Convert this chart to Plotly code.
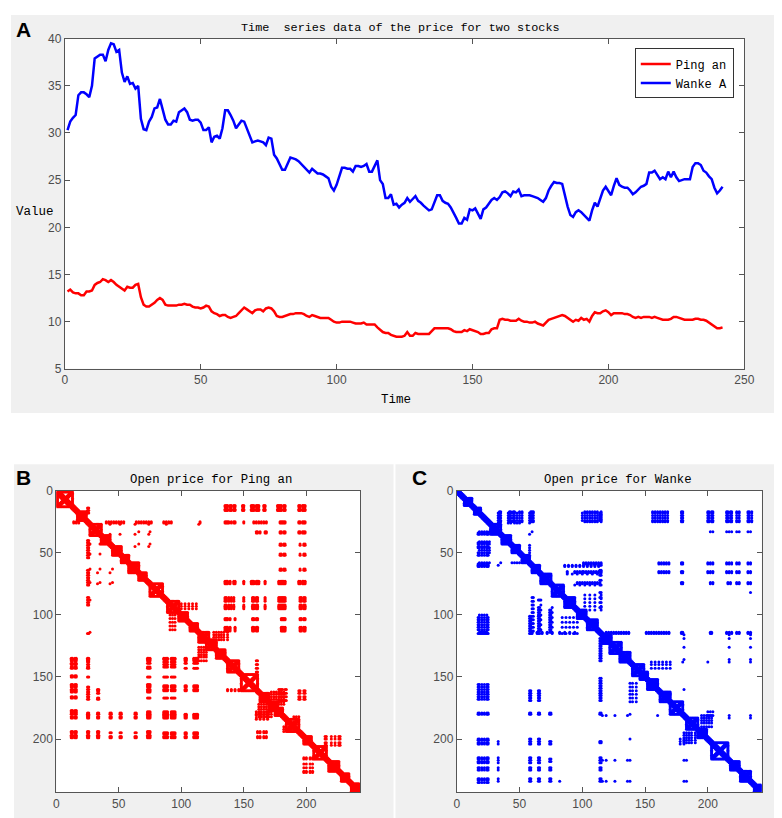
import plotly.graph_objects as go

# closing prices, t = 1..242
ping_an = [
    13.2, 13.4, 13.1, 13.0, 13.0, 12.8, 12.8, 13.2, 13.2, 13.3,
    13.9, 14.1, 14.2, 14.5, 14.4, 14.2, 14.4, 14.2, 13.9, 13.7,
    13.5, 13.3, 13.7, 13.6, 13.6, 13.9, 14.0, 12.6, 11.8, 11.6,
    11.6, 11.8, 12.0, 12.3, 12.5, 12.3, 11.8, 11.7, 11.7, 11.7,
    11.7, 11.8, 11.8, 11.9, 11.8, 11.8, 11.6, 11.5, 11.5, 11.4,
    11.5, 11.7, 11.6, 11.1, 10.9, 10.8, 10.6, 10.7, 10.7, 10.5,
    10.4, 10.5, 10.6, 10.9, 11.2, 11.5, 11.3, 11.1, 10.9, 11.2,
    11.3, 11.3, 11.1, 11.4, 11.5, 11.4, 11.1, 10.6, 10.5, 10.5,
    10.6, 10.7, 10.8, 10.8, 10.9, 10.9, 10.9, 10.8, 10.6, 10.5,
    10.7, 10.6, 10.5, 10.4, 10.4, 10.4, 10.4, 10.2, 10.0, 9.9,
    9.9, 10.0, 10.0, 10.0, 10.0, 9.9, 9.8, 9.8, 9.8, 9.9,
    9.7, 9.7, 9.7, 9.7, 9.4, 9.1, 8.9, 8.8, 8.8, 8.6,
    8.5, 8.4, 8.4, 8.4, 8.5, 8.9, 8.5, 8.5, 8.8, 8.7,
    8.7, 8.7, 8.7, 8.7, 9.0, 9.3, 9.3, 9.3, 9.3, 9.3,
    9.3, 9.2, 9.0, 8.9, 8.9, 8.9, 9.1, 9.0, 9.2, 9.1,
    9.0, 8.9, 8.7, 8.7, 8.8, 8.8, 9.2, 9.3, 9.3, 10.2,
    10.3, 10.2, 10.2, 10.1, 10.1, 10.1, 10.3, 10.1, 10.0, 10.0,
    9.9, 9.9, 10.0, 9.8, 9.7, 9.6, 9.9, 10.2, 10.3, 10.4,
    10.5, 10.6, 10.7, 10.6, 10.4, 10.2, 10.0, 10.2, 10.1, 10.4,
    10.2, 10.3, 10.0, 10.6, 11.0, 10.9, 10.9, 11.1, 11.2, 11.0,
    10.7, 10.9, 10.9, 10.9, 10.9, 10.8, 10.8, 10.7, 10.5, 10.4,
    10.5, 10.4, 10.5, 10.5, 10.5, 10.4, 10.5, 10.4, 10.3, 10.2,
    10.2, 10.2, 10.3, 10.5, 10.5, 10.4, 10.3, 10.2, 10.2, 10.2,
    10.2, 10.3, 10.3, 10.2, 10.2, 10.1, 9.9, 9.7, 9.5, 9.3,
    9.3, 9.4,
]
wanke_a = [
    30.3, 31.2, 31.6, 31.9, 34.0, 34.3, 34.3, 34.1, 33.8, 35.0,
    37.9, 38.1, 38.3, 38.3, 37.6, 38.8, 39.5, 39.4, 38.6, 38.8,
    36.4, 35.4, 36.0, 35.2, 35.3, 34.7, 35.0, 31.5, 30.4, 30.3,
    31.2, 31.7, 32.6, 32.7, 33.6, 32.5, 31.4, 30.9, 30.9, 31.3,
    31.2, 32.2, 32.4, 32.6, 32.2, 31.4, 31.3, 31.4, 31.4, 31.1,
    30.3, 30.3, 30.6, 29.0, 29.6, 29.7, 29.4, 30.5, 32.4, 32.4,
    31.9, 31.3, 30.5, 30.9, 31.3, 31.2, 30.4, 29.6, 29.0, 29.1,
    29.2, 29.1, 29.0, 28.7, 29.5, 29.4, 27.7, 27.3, 26.6, 26.1,
    26.1, 26.7, 27.4, 27.3, 27.2, 27.0, 26.7, 26.4, 26.0, 25.8,
    26.2, 25.9, 25.7, 25.7, 25.6, 25.4, 25.2, 24.3, 23.9, 24.5,
    25.4, 26.3, 26.3, 26.2, 26.2, 25.9, 26.5, 26.5, 26.4, 26.5,
    26.7, 25.9, 25.9, 26.6, 27.1, 25.0, 24.6, 23.1, 23.1, 23.5,
    22.4, 22.5, 22.1, 22.4, 22.6, 23.1, 22.7, 23.0, 23.3, 22.8,
    22.6, 22.3, 22.0, 21.8, 21.9, 22.6, 23.4, 23.4, 22.8, 22.6,
    22.5, 22.1, 21.6, 21.0, 20.4, 20.4, 21.0, 20.8, 21.9, 21.8,
    22.0, 21.5, 20.9, 21.9, 22.1, 22.5, 22.9, 23.1, 22.9, 23.2,
    23.7, 23.8, 23.6, 23.3, 23.8, 23.7, 24.0, 23.3, 23.4, 23.4,
    23.4, 23.3, 23.2, 23.1, 22.9, 22.7, 23.1, 23.9, 24.4, 24.8,
    24.7, 24.7, 24.6, 23.3, 22.2, 21.3, 21.1, 21.6, 21.8, 21.6,
    21.3, 21.0, 20.7, 21.8, 22.6, 22.2, 23.0, 23.9, 24.3, 23.9,
    23.4, 24.4, 25.2, 24.5, 24.3, 24.2, 24.2, 23.9, 23.5, 23.7,
    24.0, 24.3, 24.4, 24.6, 25.8, 25.8, 26.0, 25.5, 25.1, 25.3,
    25.1, 25.9, 25.3, 25.9, 25.3, 24.9, 25.0, 25.1, 25.1, 25.1,
    26.4, 26.8, 26.8, 26.6, 26.0, 25.8, 25.4, 25.1, 24.2, 23.6,
    23.9, 24.3,
]
days = list(range(1, len(wanke_a) + 1))

# recurrence plots: square blocks on the diagonal (first, last index)
pa_blocks = [(1, 13), (17, 24), (27, 36), (36, 43), (45, 52), (52, 58), (58, 66),
             (66, 72), (75, 85), (89, 98), (98, 105), (107, 113), (114, 122),
             (120, 128), (128, 135), (137, 146), (148, 161), (163, 170),
             (170, 177), (175, 181), (184, 194), (198, 204), (206, 216),
             (218, 226), (228, 234), (236, 242)]
wk_blocks = [(6, 12), (14, 19), (27, 35), (36, 43), (44, 50), (52, 58), (60, 66),
             (67, 75), (76, 85), (86, 94), (96, 103), (104, 112), (116, 123),
             (122, 131), (130, 138), (140, 149), (146, 152), (152, 160),
             (162, 170), (170, 180), (183, 192), (192, 199), (203, 216),
             (218, 225), (226, 234), (237, 242)]

# off-diagonal recurrences: (row indices, column indices), mirrored later
pa_clusters = [
    ([12, 13, 15, 16], [135, 136, 137, 139, 140, 142, 143, 149, 150, 156, 157, 158, 160, 161, 162,
                        166, 167, 177, 178, 179, 180, 182, 183, 194, 195, 197, 198, 199]),
    ([25, 26], [40, 42, 44, 46, 48, 50, 52, 54, 64, 66, 68, 70, 72, 74, 76, 86, 88, 90, 92, 115,
                135, 136, 137, 138, 140, 142, 143, 150, 158, 160, 162, 164, 166, 168,
                179, 180, 181, 182, 183, 194, 195, 197, 198, 199]),
    ([14, 16, 18], [25, 26]),
    ([27], [33, 43, 51, 63, 74, 88, 114]),
    ([35], [43, 51, 63, 74]),
    ([33, 43], [66, 75]),
    ([45], [51, 63, 74]),
    ([33, 34], [160, 161, 163, 167, 168, 179, 180, 182, 183, 194, 195, 197, 198, 199]),
    ([43, 44, 51, 52, 63, 64], [179, 180, 182, 183, 195, 198, 199]),
    ([73, 74, 75], [135, 136, 137, 139, 142, 143, 150, 156, 157, 158, 160, 161, 162, 167,
                    178, 179, 180, 181, 182, 183, 194, 195, 197, 198, 199]),
    ([86, 87, 88, 89, 92, 93, 94, 95], [135, 136, 138, 140, 142, 150, 157, 158, 160, 161, 167,
                                        178, 179, 180, 181, 182, 183, 195, 196, 198, 199]),
    ([103, 104, 110, 111, 112, 113], [135, 136, 137, 139, 143, 157, 158, 160, 161,
                                      180, 181, 182, 183, 195, 196, 198, 199]),
    ([91, 93, 95], [100, 103, 106, 109, 112]),
    ([114, 116, 118, 120], [126, 128, 130, 132, 134, 137]),
    ([137, 140, 143, 146, 148], [160, 161]),
    ([160, 163, 166, 169], [178, 179, 180, 181, 183, 184]),
    ([161, 163, 166, 168], [194, 195, 198, 199]),
    ([162, 164, 166, 168, 170, 172], [172, 174, 176, 178, 180, 182]),
    ([198, 200, 203, 205], [215, 216, 220, 223, 226, 227]),
    ([182, 184, 186, 188], [190, 192, 194]),
]
wk_clusters = [
    ([17, 18, 20, 22, 24, 25], [34, 35, 42, 43, 45, 46, 50, 52, 59, 60, 61,
                                102, 104, 106, 108, 110, 112, 115, 156, 158, 160, 162, 164, 166, 168,
                                179, 180, 200, 201, 203, 204, 215, 216, 218, 219, 223, 225,
                                232, 233, 235]),
    ([33], [60, 202, 204, 215, 217, 219, 223, 225, 232, 234]),
    ([18, 20, 22, 24, 26], [33, 41, 43, 46, 48, 50, 58]),
    ([35, 44, 46, 48, 50, 52, 54, 56], [58]),
    ([58, 59, 65, 66], [101, 103, 105, 107, 109, 111, 113, 115, 161, 163, 165, 167, 169,
                        179, 180, 200, 202, 204, 215, 217, 219, 223, 225, 232, 234]),
    ([65, 66], [88, 94, 96, 98, 100]),
    ([74, 75], [96, 98, 100, 102, 104, 106, 108, 110, 112, 114, 179, 180, 202, 204,
                216, 218, 223, 225, 232, 234]),
    ([82], [234]),
    ([84, 87, 90, 93, 96], [102, 106, 110, 115]),
    ([60, 61], [86, 89, 92, 95, 98, 101, 104, 107, 110, 113]),
    ([67], [88, 92, 96, 100, 104, 108, 112]),
    ([76], [94, 98, 102, 106, 110, 114]),
    ([18, 20, 22, 24], [100, 102, 104, 106, 108, 110, 112, 114]),
    ([114, 115], [19, 21, 23, 60, 64, 68, 72, 76, 82, 86, 90, 94,
                  119, 121, 123, 125, 127, 129, 131, 133, 135, 137,
                  151, 153, 155, 157, 159, 161, 163, 165, 167, 169,
                  179, 180, 202, 203, 215, 217, 219, 223, 225, 232, 234]),
    ([116, 119, 126, 136], [181, 217, 234]),
    ([138, 140, 143], [155, 158, 161, 164, 167, 170]),
    ([138], [180, 200, 217, 234]),
    ([160], [181]),
    ([178, 181], [200, 202, 204]),
    ([181, 183], [217, 234]),
    ([181, 183, 185, 187, 190], [195, 197, 199, 201, 203]),
]


def recurrence(n, blocks, clusters, band=2):
    pts = set()
    for i in range(1, n + 1):
        for d in range(-band, band + 1):
            if 1 <= i + d <= n:
                pts.add((i, i + d))
    for a, b in blocks:
        for i in range(a, b + 1):
            for j in range(a, b + 1):
                if i in (a, b) or j in (a, b) or abs(i - j) <= 1 or abs(i + j - a - b) <= 1:
                    pts.add((i, j))
    for rows, cols in clusters:
        for r in rows:
            for c in cols:
                pts.add((r, c))
                pts.add((c, r))
    pts = sorted(pts)
    return [p[1] for p in pts], [p[0] for p in pts]


pa_x, pa_y = recurrence(len(ping_an), pa_blocks, pa_clusters)
wk_x, wk_y = recurrence(len(wanke_a), wk_blocks, wk_clusters)

W, H = 782, 818
MONO = "Liberation Mono"
SANS = "Liberation Sans"

fig = go.Figure()
fig.add_trace(go.Scatter(x=days, y=ping_an, mode="lines", name="Ping an",
                         line=dict(color="#ff0000", width=2.5)))
fig.add_trace(go.Scatter(x=days, y=wanke_a, mode="lines", name="Wanke A",
                         line=dict(color="#0000ff", width=2.5)))
fig.add_trace(go.Scatter(x=pa_x, y=pa_y, mode="markers", showlegend=False,
                         marker=dict(color="#ff0000", size=3.0), xaxis="x2", yaxis="y2"))
fig.add_trace(go.Scatter(x=wk_x, y=wk_y, mode="markers", showlegend=False,
                         marker=dict(color="#0000ff", size=3.0), xaxis="x3", yaxis="y3"))


def px_x(v):
    return v / W


def px_y(v):
    return 1 - v / H


axis_style = dict(showline=True, linecolor="#555555", linewidth=1, mirror="ticks",
                  ticks="inside", ticklen=5, tickcolor="#555555", showgrid=False,
                  zeroline=False, tickfont=dict(family=SANS, size=12, color="#4d4d4d"))

# panel areas in pixels: top (55-746, 24-360), B (46-355, 484-791), C (453-764, 484-791)
fig.update_layout(
    width=W, height=H,
    margin=dict(l=0, r=0, t=0, b=0),
    paper_bgcolor="white", plot_bgcolor="white",
    xaxis=dict(domain=[px_x(54.7), px_x(745.7)], range=[0, 250], tickvals=[0, 50, 100, 150, 200, 250],
               anchor="y", **axis_style),
    yaxis=dict(domain=[px_y(360), px_y(24)], range=[5, 40], tickvals=[5, 10, 15, 20, 25, 30, 35, 40],
               anchor="x", **axis_style),
    xaxis2=dict(domain=[px_x(46), px_x(355)], range=[0, 243], tickvals=[0, 50, 100, 150, 200],
                anchor="y2", **axis_style),
    yaxis2=dict(domain=[px_y(791), px_y(484)], range=[243, 0], tickvals=[0, 50, 100, 150, 200],
                anchor="x2", **axis_style),
    xaxis3=dict(domain=[px_x(453.3), px_x(763.5)], range=[0, 243], tickvals=[0, 50, 100, 150, 200],
                anchor="y3", **axis_style),
    yaxis3=dict(domain=[px_y(791), px_y(484)], range=[243, 0], tickvals=[0, 50, 100, 150, 200],
                anchor="x3", **axis_style),
    legend=dict(x=px_x(735), y=px_y(34), xanchor="right", yanchor="top",
                bgcolor="white", bordercolor="#333333", borderwidth=1,
                font=dict(family=MONO, size=12, color="black"),
                itemwidth=30, tracegroupgap=0),
)

# grey figure backgrounds, with white plot areas on top of them
panels = [(0, 0, 782, 405), (3, 457, 389, 818), (391, 457, 779, 818)]
areas = [(54.7, 24, 745.7, 360), (46, 484, 355, 791), (453.3, 484, 763.5, 791)]
for x0, y0, x1, y1 in panels:
    fig.add_shape(type="rect", xref="paper", yref="paper", layer="below",
                  x0=px_x(x0), x1=px_x(x1), y0=px_y(y1), y1=px_y(y0),
                  fillcolor="#f0f0f0", line=dict(width=0))
for x0, y0, x1, y1 in areas:
    fig.add_shape(type="rect", xref="paper", yref="paper", layer="below",
                  x0=px_x(x0), x1=px_x(x1), y0=px_y(y1), y1=px_y(y0),
                  fillcolor="white", line=dict(width=0))

texts = [
    ("Time  series data of the price for two stocks", 396, 13, MONO, 11.8, "normal"),
    ("Time", 392, 392, MONO, 12.5, "normal"),
    ("Value", 24, 200, MONO, 12.5, "normal"),
    ("Open price for Ping an", 203, 473, MONO, 12.3, "normal"),
    ("Open price for Wanke", 617, 473, MONO, 12.3, "normal"),
    ("A", 13, 15, SANS, 21, "bold"),
    ("B", 13, 471, SANS, 21, "bold"),
    ("C", 415, 471, SANS, 21, "bold"),
]
for text, x, y, fam, size, weight in texts:
    fig.add_annotation(text=text, x=px_x(x), y=px_y(y), xref="paper", yref="paper",
                       showarrow=False, xanchor="center", yanchor="middle",
                       font=dict(family=fam, size=size, color="black", weight=weight))

fig.write_html("out.html")
